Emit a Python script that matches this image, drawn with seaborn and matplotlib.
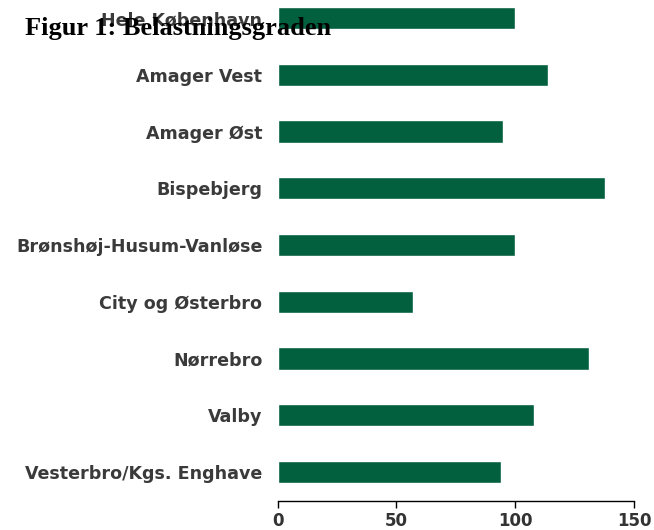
import seaborn as sns
import matplotlib.pyplot as plt
import pandas as pd

# Belastningsgrad per bydel
bydele = ["Hele København", "Amager Vest", "Amager Øst", "Bispebjerg",
          "Brønshøj-Husum-Vanløse", "City og Østerbro", "Nørrebro",
          "Valby", "Vesterbro/Kgs. Enghave"]
belastning = [100, 114, 95, 138, 100, 57, 131, 108, 94]
x_ticks = [0, 50, 100, 150]

df = pd.DataFrame({"bydel": bydele, "grad": belastning})

sns.set_style("white")
plt.rcParams["font.family"] = ["DejaVu Sans"]

fig = plt.figure(figsize=(6.54, 5.30), dpi=100)
ax = fig.add_axes([0.4246, 0.0547, 0.5448, 0.9453])

sns.barplot(data=df, x="grad", y="bydel", color="#03603F", width=0.39,
            saturation=1, ax=ax)

ax.set_xlim(0, 150)
ax.set_ylim(8.51, -0.317)
ax.set_xticks(x_ticks)
ax.set_xticklabels([str(t) for t in x_ticks], fontsize=12, fontweight="bold",
                   color="#333333")
ax.set_yticklabels(bydele, fontsize=12.6, fontweight="bold", color="#3a3a3a")
ax.tick_params(axis="y", length=0, pad=11)
ax.tick_params(axis="x", length=5, width=1, direction="out", color="black",
               pad=3, bottom=True)
ax.set_xlabel("")
ax.set_ylabel("")
for s in ["top", "right", "left"]:
    ax.spines[s].set_visible(False)
ax.spines["bottom"].set_color("black")
ax.spines["bottom"].set_linewidth(1)

fig.text(25 / 654, 1 - 35 / 530, "Figur 1: Belastningsgraden",
         family="Liberation Serif", fontweight="bold", fontsize=19,
         color="black", ha="left", va="baseline")

fig.savefig("out.png", dpi=100)
